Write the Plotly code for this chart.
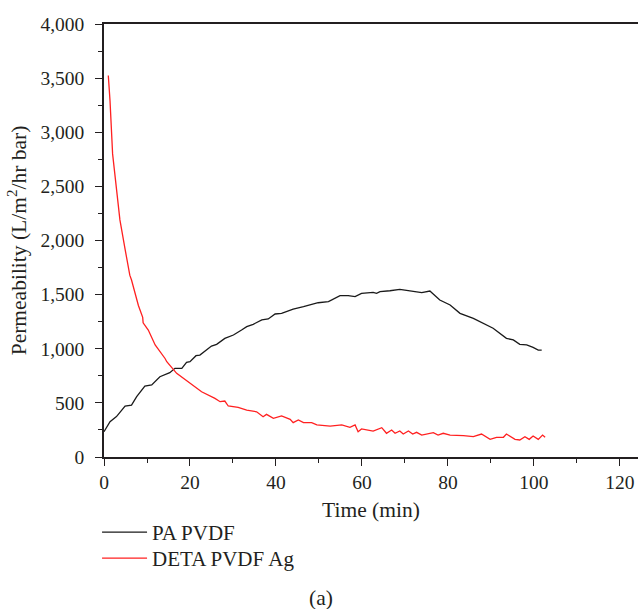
import plotly.graph_objects as go

# PA PVDF (black)
pa_t = [0, 1.4, 2.9, 4.9, 6.4, 7.6, 9.5, 11.1, 13.0, 15.3, 16.5, 18.1, 19.2, 20.0, 21.4, 22.3,
        25.0, 26.2, 28.1, 30.1, 32.0, 33.2, 34.7, 36.7, 38.2, 39.8, 41.3, 42.5, 44.0, 46.4,
        47.9, 49.8, 52.2, 53.3, 54.9, 56.8, 58.4, 59.9, 61.5, 62.6, 63.4, 64.2, 66.5, 68.8,
        73.9, 75.8, 78.1, 80.5, 82.8, 85.9, 90.5, 93.6, 95.2, 96.7, 98.3, 99.8, 101.0, 101.8]
pa_v = [234, 326, 373, 471, 480, 557, 656, 665, 742, 779, 819, 819, 874, 880, 936, 942,
        1025, 1041, 1096, 1127, 1173, 1204, 1226, 1266, 1275, 1321, 1327, 1342, 1367, 1389,
        1404, 1425, 1435, 1457, 1490, 1490, 1481, 1512, 1521, 1521, 1512, 1527, 1536, 1549,
        1518, 1533, 1450, 1404, 1327, 1281, 1189, 1096, 1081, 1041, 1035, 1013, 988, 988]

# DETA PVDF Ag (red)
deta_t = [1.0, 1.4, 2.0, 2.9, 3.7, 4.9, 6.0, 6.4, 7.7, 8.0, 9.0, 9.1, 10.3, 11.1, 11.9,
          14.2, 14.6, 16.9, 20.0, 22.7, 25.8, 27.0, 28.1, 28.9, 31.2, 33.2, 35.5, 37.0, 37.8,
          39.4, 41.3, 43.3, 44.0, 45.2, 46.4, 48.3, 49.5, 52.6, 55.3, 57.2, 58.4, 59.1, 59.9,
          62.6, 64.6, 65.7, 66.9, 67.7, 68.8, 69.6, 70.8, 71.8, 72.7, 73.9, 76.6, 77.7, 78.9,
          80.5, 83.6, 85.9, 87.8, 89.8, 91.3, 92.9, 93.6, 95.6, 96.7, 97.9, 98.9, 99.8, 101.0,
          102.0, 102.6]
deta_v = [3525, 3290, 2800, 2460, 2190, 1920, 1680, 1635, 1450, 1400, 1290, 1240, 1173, 1110, 1035,
          910, 880, 773, 681, 603, 542, 511, 517, 471, 459, 434, 418, 372, 394,
          357, 379, 348, 317, 342, 317, 317, 296, 286, 296, 274, 296, 234, 259,
          240, 271, 219, 249, 219, 240, 212, 240, 212, 228, 203, 225, 203, 219,
          203, 197, 188, 212, 163, 182, 182, 212, 163, 157, 188, 163, 194, 163,
          203, 182]

series_names = ["PA PVDF", "DETA PVDF Ag"]
x_ticks = [0, 20, 40, 60, 80, 100, 120]
y_ticks = [0, 500, 1000, 1500, 2000, 2500, 3000, 3500, 4000]

AX = "#231f20"
FONT = "Liberation Serif"
TICK = 19.5
TITLE = 21.5

fig = go.Figure()
fig.add_trace(go.Scatter(x=pa_t, y=pa_v, mode="lines", name=series_names[0],
                         line=dict(color="#1a1a1a", width=1.3), legend="legend"))
fig.add_trace(go.Scatter(x=deta_t, y=deta_v, mode="lines", name=series_names[1],
                         line=dict(color="#ff2020", width=1.3), legend="legend2"))

leg_common = dict(x=-0.013, xanchor="left", yanchor="top",
                  bgcolor="rgba(0,0,0,0)", borderwidth=0, itemwidth=45,
                  font=dict(family=FONT, size=21, color=AX))

fig.update_layout(
    width=638, height=609,
    margin=dict(l=104, r=0, t=24, b=152),
    paper_bgcolor="white", plot_bgcolor="white",
    font=dict(family=FONT, size=TICK, color=AX),
    showlegend=True,
    legend=dict(y=-(512 - 457) / 433, **leg_common),
    legend2=dict(y=-(538 - 457) / 433, **leg_common),
    xaxis=dict(range=[0, 124.2], tickvals=x_ticks, ticks="outside", ticklen=7, tickwidth=1.3,
               tickcolor=AX, showline=True, linecolor=AX, linewidth=1.5, mirror=True,
               showgrid=False, zeroline=False,
               minor=dict(dtick=10, tick0=0, ticks="outside", ticklen=4, tickcolor=AX, tickwidth=1.3),
               title=dict(text="Time (min)", font=dict(family=FONT, size=TITLE, color=AX), standoff=10),
               tickfont=dict(family=FONT, size=TICK, color=AX)),
    yaxis=dict(range=[0, 4000], tickvals=y_ticks, tickformat=",", ticks="outside", ticklen=7,
               tickwidth=1.3, tickcolor=AX, showline=True, linecolor=AX, linewidth=1.5,
               showgrid=False, zeroline=False, ticklabelstandoff=7,
               minor=dict(dtick=250, tick0=0, ticks="outside", ticklen=4, tickcolor=AX, tickwidth=1.3),
               title=dict(text="Permeability (L/m<sup>2</sup>/hr bar)",
                          font=dict(family=FONT, size=TITLE, color=AX), standoff=8),
               tickfont=dict(family=FONT, size=TICK, color=AX)),
    annotations=[dict(text="(a)", x=(321 - 104) / 534, y=-(598 - 457) / 433, xref="paper", yref="paper",
                      yanchor="middle", showarrow=False, font=dict(family=FONT, size=21.5, color=AX))],
)

fig.write_html("out.html")
